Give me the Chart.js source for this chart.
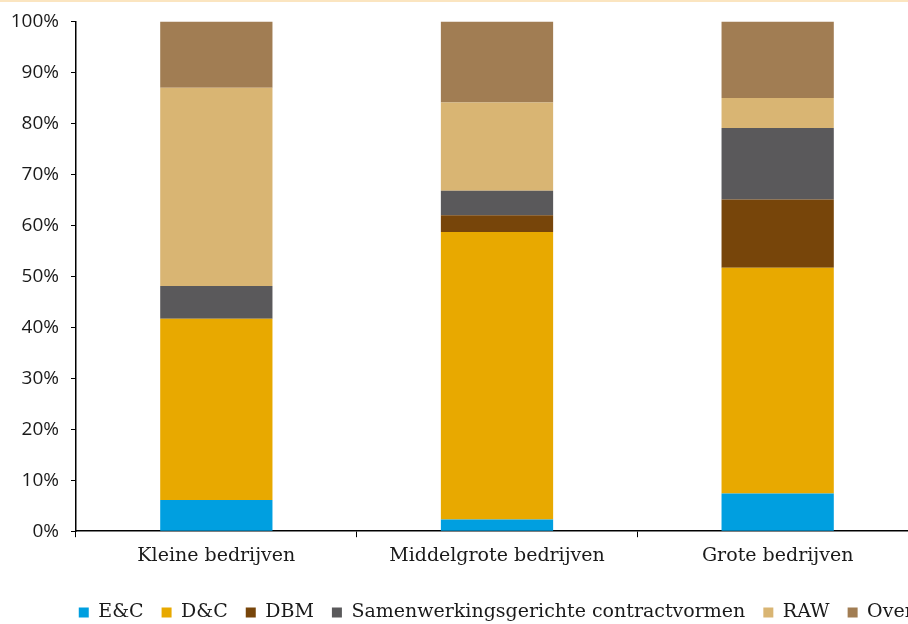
<!DOCTYPE html>
<html>
<head>
<meta charset="utf-8">
<script src="https://cdn.jsdelivr.net/npm/chart.js@4"></script>
<style>
  html, body { margin: 0; padding: 0; background: #fff; overflow: hidden; }
  #wrap { position: relative; width: 1014px; height: 634px; }
  #topline { position: absolute; left: 0; top: 0; width: 908px; height: 2px; background: #fbe5c0; z-index: 2; }
</style>
</head>
<body>
<div id="topline"></div>
<div id="wrap"><canvas id="chart" width="1014" height="634"></canvas></div>
<script>
// categorieën en aandelen (%)
const categories = ['Kleine bedrijven', 'Middelgrote bedrijven', 'Grote bedrijven'];
const ecValues = [6.1, 2.3, 7.4];
const dcValues = [35.6, 56.4, 44.3];
const dbmValues = [0, 3.3, 13.4];
const samenValues = [6.4, 4.8, 14.0];
const rawValues = [38.9, 17.3, 5.9];
const overigValues = [13.0, 15.9, 15.0];
const yTicks = [0, 10, 20, 30, 40, 50, 60, 70, 80, 90, 100];

const serif = "'DejaVu Serif', serif";
const sans = "'Open Sans', 'Liberation Sans', sans-serif";

function ds(label, data, color) {
    return {
        label: label,
        data: data,
        backgroundColor: color,
        borderWidth: 0,
        barPercentage: 0.4,
        categoryPercentage: 1.0
    };
}

// legenda iets naar rechts schuiven (zoals in het origineel)
const legendShift = {
    id: 'legendShift',
    afterLayout: function (chart) {
        if (chart.legend) {
            chart.legend.left += 52;
            chart.legend.right += 52;
        }
    }
};

const ctx = document.getElementById('chart').getContext('2d');
new Chart(ctx, {
    type: 'bar',
    data: {
        labels: categories,
        datasets: [
            ds('E&C', ecValues, '#009fe0'),
            ds('D&C', dcValues, '#e8a900'),
            ds('DBM', dbmValues, '#77450a'),
            ds('Samenwerkingsgerichte contractvormen', samenValues, '#5a595b'),
            ds('RAW', rawValues, '#d9b573'),
            ds('Overige', overigValues, '#a17d53')
        ]
    },
    plugins: [legendShift],
    options: {
        responsive: false,
        animation: false,
        maintainAspectRatio: false,
        layout: { padding: { top: 20, right: 96, bottom: 2, left: 0 } },
        plugins: {
            tooltip: { enabled: false },
            legend: {
                position: 'bottom',
                labels: {
                    boxWidth: 10,
                    boxHeight: 10,
                    padding: 18,
                    color: '#1a1a1a',
                    font: { family: serif, size: 19 }
                }
            }
        },
        scales: {
            x: {
                stacked: true,
                afterFit: function (scale) { scale.height += 11; },
                grid: {
                    offset: true,
                    drawOnChartArea: false,
                    drawTicks: true,
                    tickLength: 6,
                    color: '#000'
                },
                border: { color: '#000', width: 1.5 },
                ticks: {
                    color: '#1a1a1a',
                    padding: 7,
                    maxRotation: 0,
                    font: { family: serif, size: 19 }
                }
            },
            y: {
                stacked: true,
                min: 0,
                max: 100,
                afterFit: function (scale) { scale.width = 76; },
                afterBuildTicks: function (scale) {
                    scale.ticks = yTicks.map(v => ({ value: v }));
                },
                grid: {
                    drawOnChartArea: false,
                    drawTicks: true,
                    tickLength: 5,
                    color: '#000'
                },
                border: { color: '#000', width: 1.5 },
                ticks: {
                    color: '#1a1a1a',
                    padding: 12,
                    font: { family: sans, size: 19, lineHeight: 1 },
                    callback: function (v) { return v + '%'; }
                }
            }
        }
    }
});
</script>
</body>
</html>
